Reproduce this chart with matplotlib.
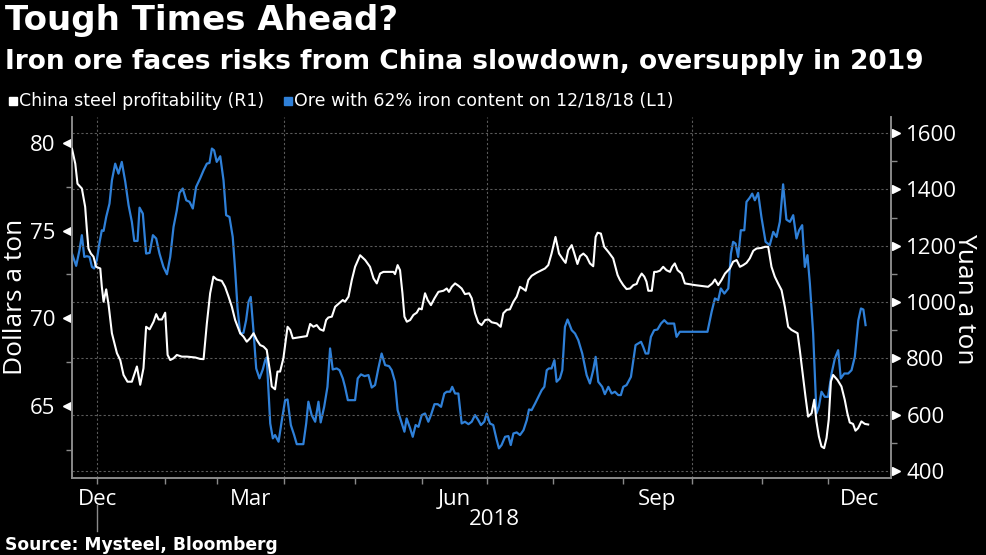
import matplotlib
matplotlib.use("Agg")
import matplotlib.pyplot as plt
from matplotlib.ticker import MultipleLocator, FixedLocator, NullFormatter
from matplotlib.transforms import blended_transform_factory
from matplotlib.patches import Rectangle

# x axis: days from 1 Jan 2018 along the chart's (trading) time axis
# China steel profitability, yuan a ton (right axis)
white_day = [-11.5, -10.0, -9.0, -7.0, -5.5, -4.7, -4.0, -2.9, -1.7, -0.5, 1.4, 2.1, 2.9, 4.1, 5.2, 6.7, 9.0,
             10.5, 12.0, 13.8, 15.8, 18.1, 19.6, 21.1, 22.3, 23.9, 25.7, 26.9, 28.0, 29.5, 31.0, 32.1, 33.3,
             34.8, 36.3, 38.6, 40.9, 44.7, 46.9, 48.5, 50.0, 51.5, 53.0, 54.5, 56.8, 58.3, 59.9, 61.4, 62.9,
             65.2, 66.7, 68.2, 69.7, 71.3, 72.8, 74.3, 75.8, 77.3, 78.9, 79.6, 81.1, 82.2, 83.4, 84.9, 86.8,
             88.0, 89.2, 92.5, 95.6, 97.1, 98.6, 100.1, 101.6, 103.2, 104.4, 105.4, 107.0, 108.5, 110.5, 112.0,
             113.0, 114.6, 116.1, 117.6, 119.9, 122.2, 124.4, 126.0, 127.5, 129.0, 130.5, 132.8, 135.1, 135.8,
             137.0, 138.1, 139.2, 140.1, 141.2, 142.7, 144.2, 145.7, 146.8, 148.0, 149.5, 150.7, 152.2, 153.8,
             155.6, 157.9, 159.4, 160.4, 161.7, 163.2, 164.7, 166.2, 167.7, 169.6, 170.8, 172.3, 173.8, 175.3,
             176.9, 178.4, 179.9, 182.2, 184.0, 185.2, 186.7, 188.2, 189.8, 191.3, 192.8, 194.0, 195.4, 196.6,
             198.1, 200.4, 202.7, 204.2, 205.7, 207.2, 209.0, 210.6, 212.6, 213.6, 214.8, 216.4, 217.6, 219.0,
             220.2, 221.7, 223.2, 224.7, 226.2, 227.3, 228.2, 229.7, 231.2, 233.1, 235.3, 237.3, 238.4, 239.9,
             241.4, 243.0, 244.5, 246.0, 247.0, 248.3, 249.5, 250.5, 251.3, 252.9, 254.0, 255.1, 256.6, 258.1,
             259.6, 261.2, 262.2, 263.4, 264.7, 266.5, 268.0, 269.5, 272.6, 275.6, 278.6, 280.5, 281.7, 283.2,
             284.7, 286.3, 288.5, 290.0, 291.6, 293.1, 294.6, 296.1, 297.6, 299.2, 300.7, 303.0, 304.5, 306.0,
             307.5, 309.0, 310.5, 312.1, 313.6, 315.1, 316.6, 319.4, 320.4, 321.9, 323.0, 324.2, 325.8, 327.0,
             328.0, 329.1, 330.3, 331.5, 332.6, 333.6, 334.6, 335.6, 337.6, 339.4, 340.9, 342.1, 343.2, 344.7,
             345.8, 347.0, 348.5, 350.1, 351.6]
white_yuan = [1544, 1491, 1420, 1403, 1338, 1255, 1190, 1172, 1161, 1125, 1119, 1054, 1001, 1045, 989, 889, 818,
              794, 741, 717, 717, 771, 706, 765, 912, 903, 930, 957, 938, 938, 962, 812, 794,
              800, 812, 806, 806, 803, 798, 797, 924, 1031, 1090, 1080, 1075, 1054, 1019, 983, 936,
              889, 877, 859, 871, 889, 865, 847, 842, 830, 747, 700, 690, 753, 753, 800, 912,
              901, 871, 875, 879, 922, 912, 918, 903, 898, 936, 945, 948, 983, 997, 1007,
              1001, 1019, 1078, 1125, 1166, 1149, 1125, 1084, 1066, 1101, 1107, 1107, 1107, 1099,
              1131, 1113, 1031, 948, 930, 936, 954, 962, 977, 974, 1031, 1007, 989, 1013,
              1036, 1040, 1048, 1036, 1054, 1066, 1058, 1048, 1028, 1031, 1013, 960, 927, 918,
              936, 938, 928, 924, 912, 960, 972, 974, 1001, 1019, 1054, 1048, 1040, 1078,
              1093, 1104, 1113, 1119, 1131, 1172, 1231, 1172, 1149, 1139, 1184, 1202, 1172, 1135,
              1163, 1172, 1161, 1137, 1127, 1231, 1246, 1243, 1196, 1178, 1155, 1096, 1078, 1060,
              1046, 1048, 1060, 1064, 1084, 1101, 1090, 1072, 1040, 1040, 1107, 1107, 1111, 1125,
              1113, 1107, 1125, 1137, 1113, 1101, 1066, 1064, 1060, 1057, 1054, 1066, 1080, 1060,
              1078, 1101, 1119, 1143, 1149, 1125, 1131, 1139, 1155, 1182, 1190, 1192, 1196, 1196,
              1125, 1090, 1066, 1042, 983, 912, 901, 889, 830, 735, 664, 593, 605, 653,
              576, 523, 487, 481, 517, 582, 718, 741, 723, 700, 653, 605, 572, 567,
              543, 552, 576, 567, 565]

# Ore with 62% iron content, dollars a ton (left axis)
blue_day = [-11.5, -9.6, -8.1, -7.0, -5.9, -4.7, -3.5, -2.4, -1.4, -0.2, 1.1, 2.1, 2.9, 4.1, 5.6, 6.7, 8.2,
            9.7, 11.2, 12.8, 14.3, 15.8, 16.9, 18.4, 19.3, 20.8, 22.3, 23.9, 25.4, 26.9, 28.4, 30.2, 31.8,
            33.3, 34.8, 36.3, 37.5, 39.0, 40.6, 42.1, 43.6, 45.1, 46.9, 48.5, 50.0, 51.2, 52.3, 53.3, 54.5,
            56.1, 57.6, 58.8, 60.3, 61.8, 62.9, 64.0, 65.2, 66.7, 67.9, 69.0, 70.0, 71.3, 72.5, 74.0, 75.5,
            76.6, 77.3, 78.1, 78.9, 80.1, 81.1, 82.7, 84.2, 85.7, 86.8, 88.3, 89.8, 91.0, 92.5, 94.0, 95.3,
            96.3, 97.8, 99.4, 100.9, 101.9, 103.5, 105.0, 106.2, 107.4, 109.2, 110.5, 112.0, 113.0, 114.3,
            116.1, 117.6, 118.8, 120.3, 121.9, 123.7, 125.2, 126.7, 128.2, 129.7, 131.3, 133.1, 134.3, 135.8,
            137.0, 138.9, 140.1, 141.1, 142.7, 143.9, 145.2, 146.5, 148.0, 149.5, 151.0, 152.2, 153.8, 155.3,
            156.8, 158.3, 159.4, 160.9, 161.9, 163.2, 164.7, 166.2, 167.7, 169.3, 170.8, 172.3, 173.8, 175.0,
            176.5, 177.6, 179.1, 180.6, 182.2, 183.2, 184.4, 186.0, 187.5, 188.6, 189.8, 191.3, 192.8, 194.4,
            195.9, 196.9, 198.1, 199.7, 201.2, 202.7, 203.9, 205.0, 206.0, 207.2, 208.5, 209.5, 211.0, 212.1,
            213.3, 214.5, 216.4, 217.9, 219.4, 221.2, 223.2, 224.7, 226.2, 227.3, 228.5, 230.3, 231.5, 233.1,
            234.6, 236.1, 237.6, 238.8, 239.9, 241.4, 243.4, 244.5, 245.5, 246.7, 248.0, 249.0, 250.1, 251.3,
            252.5, 254.0, 255.5, 257.1, 258.6, 260.1, 261.6, 263.1, 264.2, 265.7, 268.0, 271.0, 275.6, 278.3,
            280.2, 281.7, 283.2, 284.4, 286.0, 287.8, 289.0, 290.0, 291.1, 292.3, 293.5, 295.1, 296.1, 297.6,
            298.7, 299.9, 301.4, 302.9, 304.8, 306.7, 308.3, 309.8, 311.3, 312.8, 314.3, 315.9, 317.4, 318.9,
            320.1, 321.5, 322.7, 323.9, 325.0, 326.5, 328.0, 329.1, 330.3, 331.8, 333.3, 334.9, 336.4, 337.9,
            339.1, 340.7, 342.5, 344.0, 345.5, 347.1, 348.3, 349.4, 350.4]
blue_usd = [73.69, 72.99, 73.88, 74.74, 73.50, 73.54, 73.50, 72.93, 72.84, 73.31, 74.36, 75.02, 74.98, 75.78,
            76.54, 77.87, 78.82, 78.25, 78.92, 77.78, 76.45, 75.50, 74.41, 74.41, 76.31, 75.97, 73.69, 73.73,
            74.74, 74.55, 73.69, 72.93, 72.51, 73.50, 75.21, 76.16, 77.15, 77.40, 76.73, 76.64, 76.26, 77.49,
            77.97, 78.44, 78.82, 78.86, 79.68, 79.58, 78.92, 79.24, 77.87, 75.88, 75.78, 74.64, 72.74, 70.56,
            69.13, 69.17, 69.89, 70.94, 71.22, 69.23, 67.14, 66.57, 67.08, 67.61, 67.76, 65.90, 64.00, 63.15,
            63.34, 62.96, 64.19, 65.33, 65.37, 63.91, 63.34, 62.82, 62.82, 62.82, 64.00, 65.24, 64.48, 64.10,
            65.24, 64.06, 64.95, 66.09, 68.28, 67.08, 67.14, 67.04, 66.57, 66.09, 65.33, 65.33, 65.33, 66.57,
            66.80, 66.70, 66.76, 66.05, 66.19, 67.14, 67.99, 67.33, 67.27, 67.04, 66.38, 64.76, 64.00, 63.53,
            64.29, 63.72, 63.24, 63.91, 63.81, 64.48, 64.57, 64.10, 64.48, 65.10, 65.10, 64.95, 65.71, 65.81,
            65.81, 66.09, 65.71, 65.71, 64.00, 64.10, 63.96, 64.10, 64.48, 64.19, 63.91, 64.10, 64.57, 64.00,
            63.91, 63.05, 62.58, 62.77, 63.24, 63.28, 62.77, 63.43, 63.49, 63.34, 63.62, 64.19, 64.80, 64.76,
            65.14, 65.52, 65.90, 66.09, 67.04, 67.14, 67.14, 67.61, 66.38, 66.57, 67.04, 69.51, 69.93, 69.32,
            69.13, 68.75, 67.99, 66.76, 66.28, 67.04, 67.80, 66.38, 66.09, 65.67, 66.09, 65.71, 65.81, 65.62,
            65.62, 66.09, 66.19, 66.66, 67.61, 68.47, 68.56, 68.66, 68.37, 67.99, 67.99, 68.94, 69.32, 69.36,
            69.70, 69.89, 69.70, 69.70, 69.70, 68.94, 69.23, 69.23, 69.23, 69.23, 69.23, 70.37, 71.13, 71.03,
            71.70, 71.41, 71.70, 73.69, 74.36, 74.26, 73.50, 75.02, 75.02, 76.64, 76.88, 77.11, 76.73, 77.15,
            75.78, 74.36, 74.17, 74.93, 74.64, 75.50, 77.64, 75.63, 75.50, 75.88, 74.55, 75.02, 75.31, 72.93,
            73.60, 71.98, 69.13, 64.57, 64.95, 65.81, 65.52, 65.52, 66.85, 67.71, 68.18, 66.57, 66.85, 66.85,
            67.04, 67.80, 69.89, 70.56, 70.50, 69.61]

# month starts (Jan 2018 .. Dec 2018) on the same axis
month_starts = [0, 31.0, 54.7, 85.2, 117.6, 148.1, 177.8, 207.8, 239.7, 271.2, 303.1, 333.2]
quarter_labels = ["Dec", "Mar", "Jun", "Sep", "Dec"]
year_label = "2018"

BLUE = "#2f80d8"
GREY = "#8a8a8a"
GRID = "#5a5a5a"
TICK_FONT = ["Open Sans", "DejaVu Sans"]

fig = plt.figure(figsize=(9.87, 5.55), dpi=100, facecolor="black")
ax = fig.add_axes([72 / 987, 1 - 478 / 555, 819 / 987, 361 / 555])
ax.set_facecolor("black")
ax2 = ax.twinx()
ax2.patch.set_visible(False)

ax.plot(blue_day, blue_usd, color=BLUE, lw=1.6, zorder=3)
ax2.plot(white_day, white_yuan, color="white", lw=1.5, zorder=3)

x_end = 362
ax.set_xlim(white_day[0], x_end)
ax.set_ylim(60.89, 81.48)
ax2.set_ylim(375, 1657)

# spines
for a in (ax, ax2):
    a.spines["top"].set_visible(False)
    for s in ("left", "right", "bottom"):
        a.spines[s].set_color(GREY)
        a.spines[s].set_linewidth(1.2)

# y ticks
ax.yaxis.set_major_locator(MultipleLocator(5))
ax.yaxis.set_minor_locator(MultipleLocator(2.5))
ax2.yaxis.set_major_locator(MultipleLocator(200))
ax2.yaxis.set_minor_locator(MultipleLocator(100))
ax.tick_params(axis="y", which="major", length=0, pad=12, labelsize=16, labelcolor="white")
ax.tick_params(axis="y", which="minor", length=4, width=1, color=GREY)
ax2.tick_params(axis="y", which="major", length=0, pad=11, labelsize=16, labelcolor="white")
ax2.tick_params(axis="y", which="minor", length=4, width=1, color=GREY)
for lab in ax.get_yticklabels() + ax2.get_yticklabels():
    lab.set_family(TICK_FONT)

# little arrow heads at the major ticks
tl = blended_transform_factory(ax.transAxes, ax.transData)
for v in ax.get_yticks():
    if ax.get_ylim()[0] <= v <= ax.get_ylim()[1]:
        ax.plot(-0.0065, v, marker="<", ms=6, color="white", transform=tl, clip_on=False)
tr = blended_transform_factory(ax2.transAxes, ax2.transData)
for v in ax2.get_yticks():
    if ax2.get_ylim()[0] <= v <= ax2.get_ylim()[1]:
        ax2.plot(1.0065, v, marker=">", ms=6, color="white", transform=tr, clip_on=False)

# horizontal grid follows the right axis
ax2.grid(axis="y", which="major", color=GRID, lw=0.8, linestyle=(0, (2, 2)))

# x axis: ticks at month starts, gridlines at quarter starts, labels centred in last month of quarter
ax.xaxis.remove_overlapping_locs = False
ax.xaxis.set_major_locator(FixedLocator(month_starts))
ax.xaxis.set_major_formatter(NullFormatter())
ax.tick_params(axis="x", which="major", length=4, width=1, color=GREY)
for q in month_starts[::3]:
    ax.axvline(q, color=GRID, lw=0.8, linestyle=(0, (2, 2)), zorder=1)

label_pos = [month_starts[0]]
label_pos += [(month_starts[i] + month_starts[i + 1]) / 2 for i in (2, 5, 8)]
label_pos.append((month_starts[11] + x_end) / 2)
ax.xaxis.set_minor_locator(FixedLocator(label_pos))
ax.set_xticklabels(quarter_labels, minor=True)
ax.tick_params(axis="x", which="minor", length=0, pad=8, labelsize=16, labelcolor="white")
for lab in ax.get_xticklabels(minor=True):
    lab.set_family(TICK_FONT)
ax2.tick_params(axis="x", which="both", length=0)

bx = blended_transform_factory(ax.transData, ax.transAxes)
ax.text((month_starts[0] + x_end) / 2, -0.085, year_label, transform=bx, ha="center", va="top",
        fontsize=16, color="white", family=TICK_FONT)
ax.plot([month_starts[0], month_starts[0]], [-0.075, -0.148], color=GREY, lw=1, transform=bx, clip_on=False)

# axis titles
fig.text(16 / 987, 1 - 297 / 555, "Dollars a ton", rotation=90, ha="center", va="center",
         fontsize=19, color="white", family=TICK_FONT)
fig.text(965 / 987, 1 - 299 / 555, "Yuan a ton", rotation=270, ha="center", va="center",
         fontsize=19, color="white", family=TICK_FONT)

# titles
fig.text(5 / 987, 1 - 4 / 555, "Tough Times Ahead?", ha="left", va="top", fontsize=24.5,
         fontweight="bold", color="white", family="DejaVu Sans")
fig.text(5 / 987, 1 - 49 / 555, "Iron ore faces risks from China slowdown, oversupply in 2019", ha="left",
         va="top", fontsize=19, fontweight="bold", color="white", family="DejaVu Sans")
fig.text(5 / 987, 1 - 545 / 555, "Source: Mysteel, Bloomberg", ha="left", va="center", fontsize=12.3,
         fontweight="bold", color="white", family="DejaVu Sans")

# legend
leg_y = 1 - 101 / 555
fig.add_artist(Rectangle((9 / 987, leg_y - 4 / 555), 8 / 987, 8 / 555, transform=fig.transFigure,
                         color="white"))
t1 = fig.text(19 / 987, leg_y, "China steel profitability (R1)", ha="left", va="center",
              fontsize=12.5, color="white", family="DejaVu Sans")
fig.canvas.draw()
bb = t1.get_window_extent()
x2 = bb.x1 + 20
fig.add_artist(Rectangle(((x2) / 987, leg_y - 4 / 555), 8 / 987, 8 / 555, transform=fig.transFigure,
                         color=BLUE))
fig.text((x2 + 10) / 987, leg_y, "Ore with 62% iron content on 12/18/18 (L1)", ha="left", va="center",
         fontsize=12.5, color="white", family="DejaVu Sans")

fig.savefig("out.png", dpi=100, facecolor="black")
